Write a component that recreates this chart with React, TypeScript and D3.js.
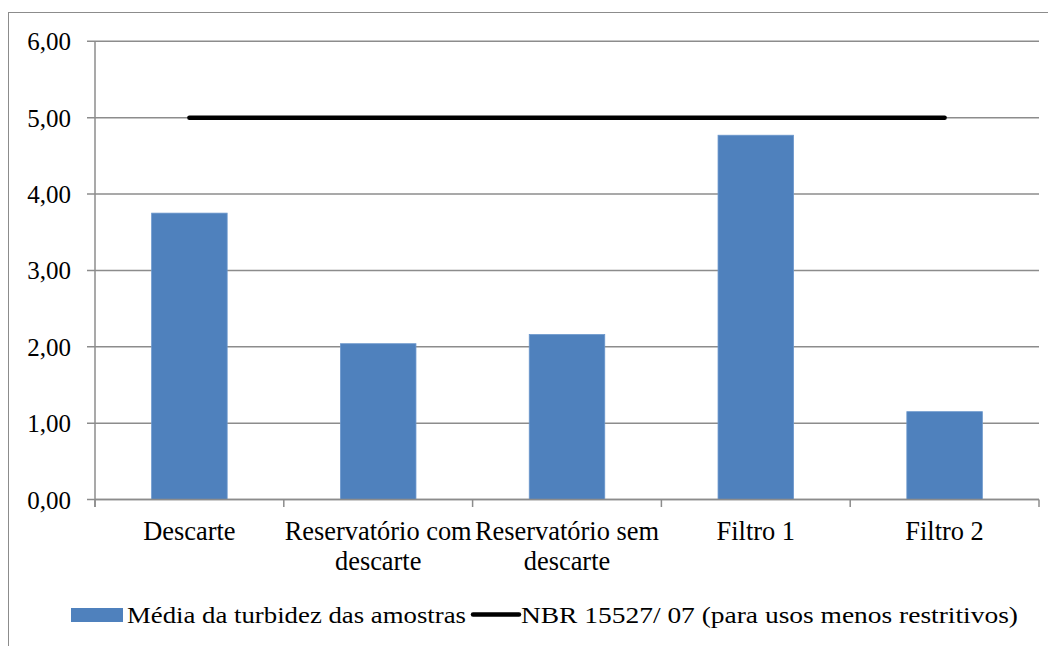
import React from "react";
import * as d3 from "d3";

const categories: string[] = [
  "Descarte",
  "Reservatório com\ndescarte",
  "Reservatório sem\ndescarte",
  "Filtro 1",
  "Filtro 2",
];
const turbidez: number[] = [3.75, 2.04, 2.16, 4.77, 1.15];
const nbr: number[] = [5, 5, 5, 5, 5];
const yTicks: number[] = [0, 1, 2, 3, 4, 5, 6];
const seriesNames: string[] = [
  "Média da turbidez das amostras",
  "NBR 15527/ 07 (para usos menos restritivos)",
];

const FONT = "'Liberation Serif', 'Times New Roman', serif";
const GRID = "#8c8c8c";
const BAR = "#4F81BD";

export default function App() {
  const left = 95;
  const right = 1039;
  const top = 41.3;
  const bottom = 499.5;

  const x = d3
    .scaleBand<string>()
    .domain(categories)
    .range([left, right])
    .paddingInner(0.6)
    .paddingOuter(0.3);
  const step = x.step();
  const y = d3.scaleLinear().domain([0, 6]).range([bottom, top]);
  const fmt = (v: number) => v.toFixed(2).replace(".", ",");

  const line = d3
    .line<number>()
    .x((_, i) => (x(categories[i]) as number) + x.bandwidth() / 2)
    .y((d) => y(d));

  return (
    <svg width={1048} height={638} style={{ display: "block" }}>
      <g transform="translate(-8,-8)">
        <rect x={8.5} y={12.5} width={1200} height={800} fill="#fff" stroke={GRID} strokeWidth={1} />
        {yTicks.map((t) => (
          <line key={"g" + t} x1={87} x2={right} y1={y(t)} y2={y(t)} stroke={GRID} strokeWidth={1.5} />
        ))}
        <line x1={left} x2={left} y1={top} y2={bottom + 7.5} stroke={GRID} strokeWidth={1.5} />
        {d3.range(categories.length + 1).map((i) => (
          <line
            key={"xt" + i}
            x1={left + i * step}
            x2={left + i * step}
            y1={bottom}
            y2={bottom + 7.5}
            stroke={GRID}
            strokeWidth={1.5}
          />
        ))}
        {yTicks.map((t) => (
          <text
            key={"yl" + t}
            x={71}
            y={y(t) + 9}
            textAnchor="end"
            fontFamily={FONT}
            fontSize={25}
            fill="#000"
          >
            {fmt(t)}
          </text>
        ))}
        {turbidez.map((v, i) => (
          <rect
            key={"b" + i}
            x={x(categories[i]) as number}
            y={y(v)}
            width={x.bandwidth()}
            height={y(0) - y(v)}
            fill={BAR}
            stroke="#6b97cc"
            strokeWidth={0.8}
          />
        ))}
        <line x1={left} x2={right} y1={bottom} y2={bottom} stroke={GRID} strokeWidth={1.5} />
        <path d={line(nbr) || ""} fill="none" stroke="#000" strokeWidth={4.5} strokeLinecap="round" />
        {categories.map((c) => {
          const cx = (x(c) as number) + x.bandwidth() / 2;
          return (
            <text key={c} textAnchor="middle" fontFamily={FONT} fontSize={26.4} fill="#000">
              {c.split("\n").map((ln, j) => (
                <tspan key={j} x={cx} y={539.5 + j * 30}>
                  {ln}
                </tspan>
              ))}
            </text>
          );
        })}
        <rect x={71} y={608} width={52} height={14} fill={BAR} />
        <text
          x={127}
          y={623}
          fontFamily={FONT}
          fontSize={24}
          textLength={339}
          lengthAdjust="spacingAndGlyphs"
          fill="#000"
        >
          {seriesNames[0]}
        </text>
        <line x1={473} x2={519} y1={614.5} y2={614.5} stroke="#000" strokeWidth={4.5} strokeLinecap="round" />
        <text
          x={521}
          y={623}
          fontFamily={FONT}
          fontSize={24}
          textLength={497}
          lengthAdjust="spacingAndGlyphs"
          fill="#000"
        >
          {seriesNames[1]}
        </text>
      </g>
    </svg>
  );
}
